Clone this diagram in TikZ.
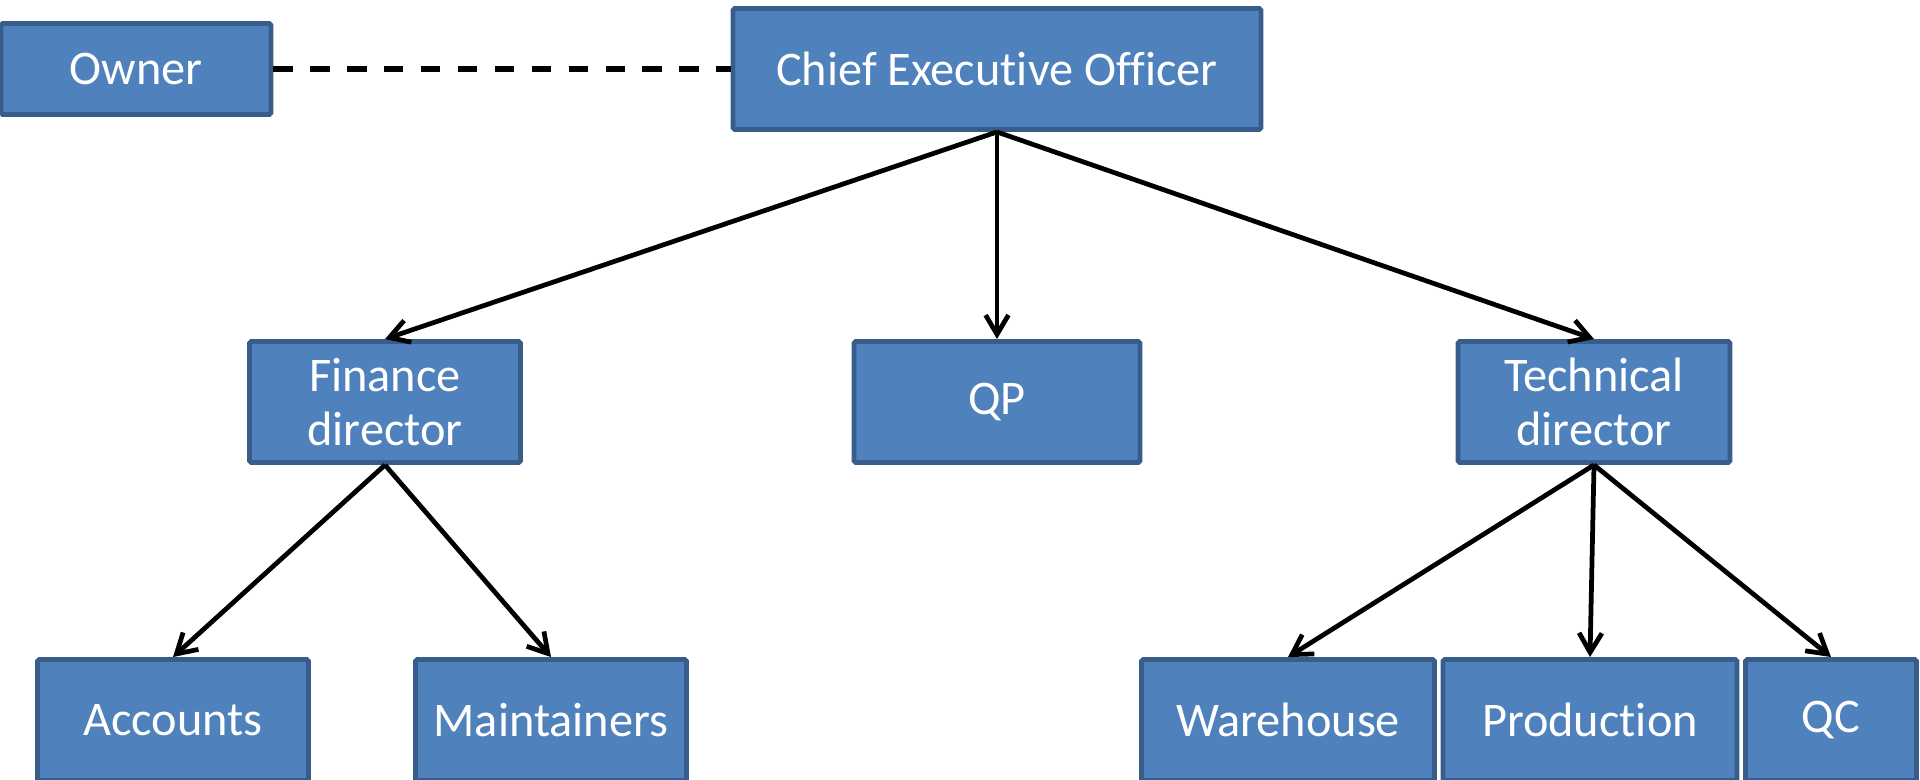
\documentclass[tikz,border=0pt]{standalone}
\usepackage{fontspec}
\setmainfont{Carlito}[Ligatures=NoCommon]
\usetikzlibrary{arrows.meta}

\definecolor{boxfill}{RGB}{79,129,189}
\definecolor{boxline}{RGB}{56,93,138}

\begin{document}
\begin{tikzpicture}[x=0.02cm,y=-0.02cm,
    unit/.style={draw=boxline,fill=boxfill,line width=2.8pt,text=white,
      align=center,inner sep=0pt,rounded corners=1pt,
      font=\fontsize{27.5}{31}\selectfont},
    link/.style={line width=2.7pt,-{Straight Barb[length=11pt,width=13pt,line width=2.7pt]}},
    tie/.style={line width=3.4pt,dash pattern=on 11pt off 10pt}]
  \useasboundingbox (0,0) rectangle (1920,780);
  % top row
  \node[unit,minimum width=270*0.02cm,minimum height=91*0.02cm] (owner) at (136,69) {Owner};
  \node[unit,minimum width=528*0.02cm,minimum height=121*0.02cm] (ceo) at (997,69) {Chief Executive Officer};
  % middle row
  \node[unit,minimum width=271*0.02cm,minimum height=121*0.02cm] (fin) at (385,402) {Finance\\director};
  \node[unit,minimum width=286*0.02cm,minimum height=121*0.02cm] (qp) at (997,402) {QP};
  \node[unit,minimum width=272*0.02cm,minimum height=121*0.02cm] (tech) at (1594,402) {Technical\\director};
  % bottom row
  \node[unit,minimum width=271*0.02cm,minimum height=121*0.02cm] (acc) at (173,720) {Accounts};
  \node[unit,minimum width=271*0.02cm,minimum height=121*0.02cm] (maint) at (551,720) {Maintainers};
  \node[unit,minimum width=293*0.02cm,minimum height=121*0.02cm] (wh) at (1288,720) {Warehouse};
  \node[unit,minimum width=294*0.02cm,minimum height=121*0.02cm] (prod) at (1590,720) {Production};
  \node[unit,minimum width=171*0.02cm,minimum height=121*0.02cm] (qc) at (1831,720) {QC};

  \draw[tie] (owner.east) -- (ceo.west);
  \foreach \t in {fin,qp,tech}
    \draw[link] (ceo.south) -- (\t.north);
  \foreach \t in {acc,maint}
    \draw[link] (fin.south) -- (\t.north);
  \foreach \t in {wh,prod,qc}
    \draw[link] (tech.south) -- (\t.north);
\end{tikzpicture}
\end{document}
